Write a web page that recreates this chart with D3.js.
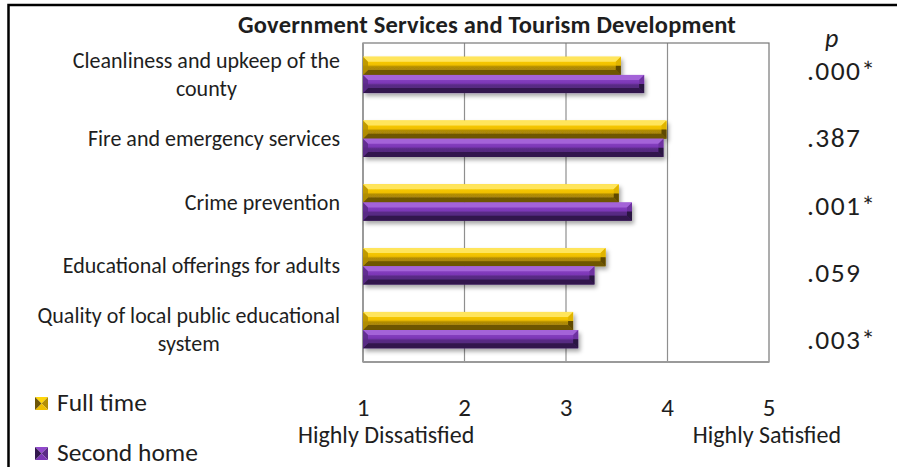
<!DOCTYPE html>
<html>
<head>
<meta charset="utf-8">
<script src="https://cdn.jsdelivr.net/npm/d3@7"></script>
<style>
  html, body { margin: 0; padding: 0; background: #fff; }
  svg { display: block; }
  text { font-family: Carlito, Calibri, Lato, "Open Sans", sans-serif; fill: #1e1e1e; }
</style>
</head>
<body>
<svg id="chart" width="897" height="467"></svg>
<script>
// Mean satisfaction ratings (1 = highly dissatisfied, 5 = highly satisfied)
const categories = [
  "Cleanliness and upkeep of the\ncounty",
  "Fire and emergency services",
  "Crime prevention",
  "Educational offerings for adults",
  "Quality of local public educational\nsystem"
];
const seriesNames = ["Full time", "Second home"];
const fullTime   = [3.54, 3.99, 3.52, 3.39, 3.07];
const secondHome = [3.77, 3.96, 3.65, 3.28, 3.12];
const pValues = [".000*", ".387", ".001*", ".059", ".003*"];
const tickValues = [1, 2, 3, 4, 5];
const scaleEnds = ["Highly Dissatisfied", "Highly Satisfied"];
const title = "Government Services and Tourism Development";

const rows = categories.map((c, i) => ({ category: c, values: [fullTime[i], secondHome[i]] }));

const svg = d3.select("#chart");
const W = 897, H = 467;
const plot = { left: 363, right: 769, top: 43, bottom: 362 };

const x = d3.scaleLinear().domain([1, 5]).range([plot.left, plot.right]);
const y = d3.scaleBand().domain(categories).range([plot.top, plot.bottom])
  .paddingInner(0.43).paddingOuter(0.215);
const ySub = d3.scaleBand().domain(seriesNames).range([0, y.bandwidth()]);
const yP = d3.scalePoint().domain(categories).range([80, 349]);

// Bevel palette for each series
const palette = {
  "Full time":   { topFacet: "#FFE55C", faceA: "#FFD60A", faceB: "#F0BF00", faceC: "#B38E06", faceD: "#96760A", bottomFacet: "#6E5606", endFacet: "#5E4A05", endTop: "#E0B400" },
  "Second home": { topFacet: "#A463D8", faceA: "#9149CC", faceB: "#7C37B6", faceC: "#5A2B86", faceD: "#4D2474", bottomFacet: "#33184E", endFacet: "#2A1342", endTop: "#6E33A0" }
};

const defs = svg.append("defs");
seriesNames.forEach((s, i) => {
  const p = palette[s];
  const g = defs.append("linearGradient").attr("id", "face" + i)
    .attr("x1", 0).attr("y1", 0).attr("x2", 0).attr("y2", 1);
  g.append("stop").attr("offset", "0%").attr("stop-color", p.faceA);
  g.append("stop").attr("offset", "45%").attr("stop-color", p.faceB);
  g.append("stop").attr("offset", "55%").attr("stop-color", p.faceC);
  g.append("stop").attr("offset", "100%").attr("stop-color", p.faceD);
});
const shadow = defs.append("filter").attr("id", "barShadow")
  .attr("x", "-5%").attr("y", "-30%").attr("width", "115%").attr("height", "180%");
shadow.append("feDropShadow").attr("dx", 2).attr("dy", 3).attr("stdDeviation", 2)
  .attr("flood-color", "#000").attr("flood-opacity", 0.35);

// Outer frame
svg.append("rect").attr("x", 8.5).attr("y", 5).attr("width", W).attr("height", H)
  .attr("fill", "none").attr("stroke", "#000").attr("stroke-width", 2.5);

// Title
svg.append("text").attr("x", 487).attr("y", 33)
  .attr("text-anchor", "middle").attr("font-weight", "bold").attr("font-size", 24.5)
  .attr("letter-spacing", 0.2)
  .text(title);

// Gridlines
svg.append("g").selectAll("line").data(tickValues.slice(1, -1)).join("line")
  .attr("x1", d => x(d)).attr("x2", d => x(d))
  .attr("y1", plot.top).attr("y2", plot.bottom)
  .attr("stroke", "#8f8f8f").attr("stroke-width", 1.2);

// Plot border
svg.append("rect")
  .attr("x", x(1)).attr("y", plot.top)
  .attr("width", x(5) - x(1)).attr("height", plot.bottom - plot.top)
  .attr("fill", "none").attr("stroke", "#777").attr("stroke-width", 1.2);
svg.append("line").attr("x1", x(1)).attr("x2", x(5)).attr("y1", plot.bottom).attr("y2", plot.bottom)
  .attr("stroke", "#9a9a9a").attr("stroke-width", 2);
svg.append("line").attr("x1", x(1)).attr("x2", x(1)).attr("y1", plot.top).attr("y2", plot.bottom)
  .attr("stroke", "#9a9a9a").attr("stroke-width", 2);

// Bars
const b = 5;
const groups = svg.append("g").selectAll("g").data(rows).join("g")
  .attr("transform", d => `translate(0,${y(d.category)})`);

const bars = groups.selectAll("g.bar")
  .data(d => d.values.map((v, i) => ({ series: seriesNames[i], idx: i, value: v })))
  .join("g").attr("class", "bar").attr("filter", "url(#barShadow)");

bars.each(function (d) {
  const g = d3.select(this);
  const p = palette[d.series];
  const x0 = x(1), x1 = x(d.value);
  const y0 = ySub(d.series), h = ySub.bandwidth(), y1 = y0 + h;
  g.append("rect").attr("x", x0).attr("y", y0).attr("width", x1 - x0).attr("height", h)
    .attr("fill", `url(#face${d.idx})`);
  const poly = pts => pts.map(q => q.join(",")).join(" ");
  g.append("polygon").attr("points", poly([[x0, y0], [x1, y0], [x1 - b, y0 + b], [x0 + b, y0 + b]]))
    .attr("fill", p.topFacet);
  g.append("polygon").attr("points", poly([[x0, y1], [x1, y1], [x1 - b, y1 - b], [x0 + b, y1 - b]]))
    .attr("fill", p.bottomFacet);
  g.append("polygon").attr("points", poly([[x0, y0], [x0 + b, y0 + b], [x0 + b, y1 - b], [x0, y1]]))
    .attr("fill", p.faceC).attr("opacity", 0.8);
  g.append("polygon").attr("points", poly([[x1, y0], [x1, y0 + h / 2], [x1 - b, y0 + h / 2], [x1 - b, y0 + b]]))
    .attr("fill", p.endTop);
  g.append("polygon").attr("points", poly([[x1, y0 + h / 2], [x1, y1], [x1 - b, y1 - b], [x1 - b, y0 + h / 2]]))
    .attr("fill", p.endFacet);
});

// Category labels: lines centred on each other, block right-aligned to the axis
const labelRight = 340;
const lineGap = 28.5;
const labels = svg.append("g").selectAll("text").data(categories).join("text")
  .attr("font-size", 22).attr("text-anchor", "middle");
labels.each(function (c) {
  const t = d3.select(this);
  const lines = c.split("\n");
  const cy = y(c) + y.bandwidth() / 2;
  lines.forEach((ln, i) => {
    t.append("tspan").text(ln)
      .attr("y", cy + 7 + (i - (lines.length - 1) / 2) * lineGap);
  });
  const widest = d3.max(t.selectAll("tspan").nodes(), n => n.getComputedTextLength());
  t.selectAll("tspan").attr("x", labelRight - widest / 2);
});

// p-value column
svg.append("text").attr("x", 825).attr("y", 47).attr("font-style", "italic")
  .attr("font-size", 26).text("p");
svg.append("g").selectAll("text").data(categories).join("text")
  .attr("x", 807).attr("y", d => yP(d))
  .attr("font-size", 27.5).attr("font-weight", 300).attr("letter-spacing", 1.4)
  .text((d, i) => pValues[i]);

// Scale values beneath the plot
svg.append("g").selectAll("text").data(tickValues).join("text")
  .attr("x", d => x(d)).attr("y", 416).attr("text-anchor", "middle")
  .attr("font-size", 25).text(d => d);
svg.append("text").attr("x", 298).attr("y", 443).attr("font-size", 24).text(scaleEnds[0]);
svg.append("text").attr("x", x(5) - 2).attr("y", 443).attr("text-anchor", "middle")
  .attr("font-size", 24).text(scaleEnds[1]);

// Legend
const legend = svg.append("g").selectAll("g").data(seriesNames).join("g")
  .attr("transform", (d, i) => `translate(35,${397 + i * 50})`);
const s = 13;
legend.each(function (d) {
  const g = d3.select(this);
  const p = palette[d];
  const c = [s / 2, s / 2];
  const tri = (a, bb) => [a, bb, c].map(q => q.join(",")).join(" ");
  g.append("polygon").attr("points", tri([0, 0], [s, 0])).attr("fill", p.faceA);
  g.append("polygon").attr("points", tri([s, 0], [s, s])).attr("fill", p.faceC);
  g.append("polygon").attr("points", tri([0, s], [s, s])).attr("fill", p.faceB);
  g.append("polygon").attr("points", tri([0, 0], [0, s])).attr("fill", p.bottomFacet);
  g.append("text").attr("x", 22).attr("y", 14).attr("font-size", 25.5).text(d);
});
</script>
</body>
</html>
